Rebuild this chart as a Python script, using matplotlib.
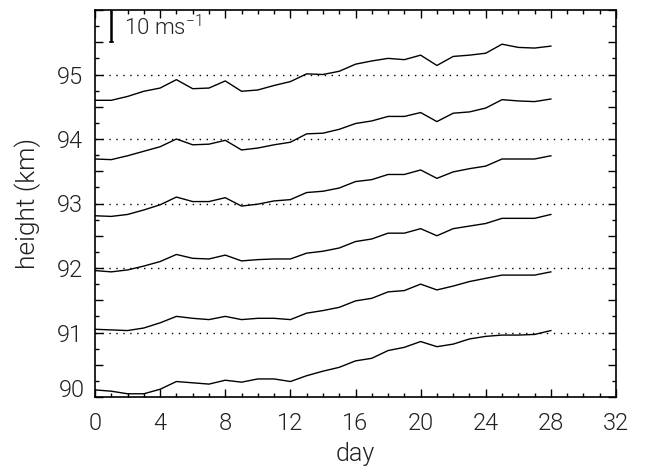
import matplotlib
matplotlib.use("Agg")
import matplotlib.pyplot as plt
from matplotlib.ticker import MultipleLocator, FuncFormatter
from matplotlib.transforms import offset_copy
import numpy as np

plt.rcParams['font.family'] = ['Roboto', 'DejaVu Sans']
plt.rcParams['font.weight'] = 300
plt.rcParams['axes.labelweight'] = 300
plt.rcParams['mathtext.fontset'] = 'custom'
plt.rcParams['mathtext.rm'] = 'Roboto:weight=300'

days = list(range(29))
levels = [95, 94, 93, 92, 91, 90]
scale_km_per_ms = 0.05  # 10 m/s = 0.5 km

wind_95 = [-8.0, -8.0, -6.8, -5.2, -4.2, -1.6, -4.4, -4.2, -2.0, -5.2, -4.8, -3.4, -2.2, 0.2, 0.0,
           1.0, 3.2, 4.2, 5.0, 4.6, 6.0, 2.8, 5.6, 6.0, 6.6, 9.4, 8.4, 8.2, 8.8]
wind_94 = [-6.2, -6.4, -5.2, -3.8, -2.4, 0.0, -1.8, -1.6, -0.4, -3.4, -2.8, -1.8, -1.0, 1.6, 1.8,
           3.0, 4.8, 5.6, 7.0, 7.0, 8.2, 5.4, 8.0, 8.4, 9.6, 12.2, 11.8, 11.6, 12.4]
wind_93 = [-3.8, -4.0, -3.4, -2.0, -0.4, 2.0, 0.6, 0.6, 1.8, -0.8, -0.2, 0.8, 1.2, 3.4, 3.8,
           4.8, 6.8, 7.4, 9.0, 9.0, 10.4, 7.8, 9.8, 10.8, 11.6, 13.8, 13.8, 13.8, 14.8]
wind_92 = [-0.8, -1.2, -0.6, 0.6, 2.0, 4.2, 3.0, 2.8, 4.0, 2.2, 2.6, 2.8, 2.8, 4.6, 5.2,
           6.2, 8.2, 9.0, 10.8, 10.8, 12.2, 10.0, 12.2, 13.0, 13.8, 15.4, 15.4, 15.4, 16.6]
wind_91 = [1.0, 0.8, 0.6, 1.4, 3.0, 5.0, 4.4, 4.0, 5.0, 4.0, 4.4, 4.4, 4.0, 6.0, 6.8,
           7.8, 9.8, 10.6, 12.6, 13.0, 15.0, 13.2, 14.4, 15.8, 16.8, 17.8, 17.8, 17.8, 18.8]
wind_90 = [2.2, 1.8, 1.0, 1.0, 2.4, 4.8, 4.4, 4.0, 5.2, 4.6, 5.6, 5.6, 4.8, 6.6, 8.0,
           9.2, 11.2, 12.0, 14.4, 15.4, 17.2, 15.6, 16.4, 18.0, 18.8, 19.2, 19.2, 19.4, 20.6]
winds = [wind_95, wind_94, wind_93, wind_92, wind_91, wind_90]

fig = plt.figure(figsize=(6.46, 4.70), dpi=100)
ax = fig.add_axes([95/646, 1-397/470, (616-95)/646, (397-10)/470])

for lev in [91, 92, 93, 94, 95]:
    ax.axhline(lev, color='black', lw=1.0, linestyle=(0, (1, 4)))

for lev, w in zip(levels, winds):
    ax.plot(days, lev + np.array(w) * scale_km_per_ms, color='black', lw=1.0)

# scale bar: 10 m/s
ax.plot([1, 1], [96 - 10*scale_km_per_ms, 96], color='black', lw=1.8, solid_capstyle='butt')
ax.plot([0.9, 1.1], [96 - 10*scale_km_per_ms]*2, color='black', lw=1.2)
ax.text(1.8, 95.73, "10 ms$^{-1}$", fontsize=16, va='center', ha='left', color='#222222',
        fontweight=300)

ax.set_xlim(0, 32)
ax.set_ylim(90, 96)
ax.xaxis.set_major_locator(MultipleLocator(4))
ax.xaxis.set_minor_locator(MultipleLocator(1))
ax.yaxis.set_major_locator(MultipleLocator(0.5))
ax.yaxis.set_minor_locator(MultipleLocator(0.25))
ax.yaxis.set_major_formatter(FuncFormatter(
    lambda v, p: f"{int(round(v))}" if abs(v - round(v)) < 1e-6 and 90.5 < v < 95.5 else ""))
ax.tick_params(which='both', direction='in', top=True, right=True, width=1.0, labelsize=17,
               colors='black', labelcolor='#222222')
ax.tick_params(which='major', length=6, pad=9)
ax.tick_params(which='minor', length=3)
ax.tick_params(axis='x', pad=11)
for lab in ax.get_xticklabels() + ax.get_yticklabels():
    lab.set_fontweight(300)
for s in ax.spines.values():
    s.set_linewidth(1.2)

# bottom y label sits just above the axis corner
ylab_tr = offset_copy(ax.get_yaxis_transform(), fig=fig, x=-10.5, y=0, units='dots')
ax.text(0, 90, "90", transform=ylab_tr, ha='right', va='baseline', fontsize=17,
        color='#222222', fontweight=300)

ax.set_xlabel("day", fontsize=18, labelpad=5, color='#222222', fontweight=300)
ax.set_ylabel("height (km)", fontsize=19, labelpad=11, color='#222222', fontweight=300)

fig.savefig("out.png", dpi=100)
